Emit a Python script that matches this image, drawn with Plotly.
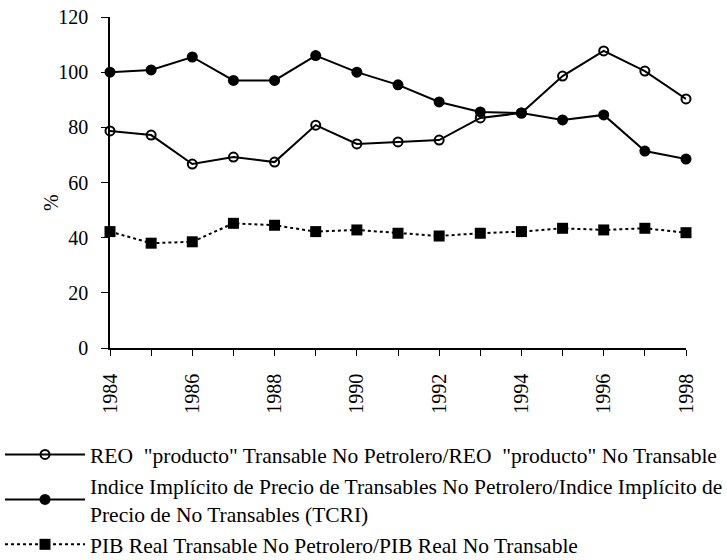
import plotly.graph_objects as go

years = list(range(1984, 1999))
reo = [78.7, 77.2, 66.7, 69.2, 67.4, 80.8, 74.0, 74.7, 75.4, 83.4, 85.2, 98.6, 107.7, 100.4, 90.3]
tcri = [100.0, 100.8, 105.5, 97.0, 97.0, 106.0, 100.0, 95.4, 89.2, 85.6, 85.2, 82.7, 84.5, 71.4, 68.5]
pib = [42.2, 38.0, 38.5, 45.2, 44.5, 42.2, 42.8, 41.6, 40.6, 41.6, 42.2, 43.4, 42.8, 43.4, 41.8]

name_reo = 'REO  "producto" Transable No Petrolero/REO  "producto" No Transable'
name_tcri = 'Indice Implícito de Precio de Transables No Petrolero/Indice Implícito de<br>Precio de No Transables (TCRI)'
name_pib = 'PIB Real Transable No Petrolero/PIB Real No Transable'

y_ticks = [0, 20, 40, 60, 80, 100, 120]
x_ticktext = [str(y) if y % 2 == 0 else "" for y in years]
y_title = "%"

FONT = "Liberation Serif, Times New Roman, serif"

fig = go.Figure()
fig.add_trace(go.Scatter(
    x=years, y=reo, name=name_reo, mode="lines+markers", legendgroup="a",
    line=dict(color="black", width=2),
    marker=dict(symbol="circle-open", size=9, color="black", line=dict(width=2)),
    cliponaxis=False,
))
fig.add_trace(go.Scatter(
    x=years, y=tcri, name=name_tcri, mode="lines+markers", legendgroup="b",
    line=dict(color="black", width=2),
    marker=dict(symbol="circle", size=11, color="black"),
    cliponaxis=False,
))
fig.add_trace(go.Scatter(
    x=years, y=pib, name=name_pib, mode="lines+markers", legendgroup="c",
    line=dict(color="black", width=2, dash="dot"),
    marker=dict(symbol="square", size=11, color="black"),
    cliponaxis=False,
))

fig.add_annotation(
    text=y_title, xref="paper", yref="paper",
    x=(38 - 110) / 576, y=(348 - 203) / 331,
    showarrow=False, textangle=-90,
    font=dict(family=FONT, size=20, color="black"),
)

fig.update_layout(
    width=727, height=560,
    margin=dict(l=110, r=41, t=17, b=212, autoexpand=False),
    paper_bgcolor="white", plot_bgcolor="white",
    font=dict(family=FONT, size=20, color="black"),
    showlegend=True,
    legend=dict(
        xref="container", yref="container",
        x=0.0, y=(560 - 434) / 560, xanchor="left", yanchor="top",
        font=dict(family=FONT, size=21.5, color="black"),
        itemwidth=80, tracegroupgap=0,
        bgcolor="rgba(0,0,0,0)",
    ),
    xaxis=dict(
        range=[1984, 1998], tickvals=years, ticktext=x_ticktext,
        tickangle=-90, ticks="outside", ticklen=6, tickwidth=1, tickcolor="black",
        ticklabelstandoff=10,
        showline=True, linecolor="black", linewidth=1.5,
        showgrid=False, zeroline=False,
        tickfont=dict(family=FONT, size=20),
    ),
    yaxis=dict(
        range=[0, 120], tickvals=y_ticks,
        ticks="outside", ticklen=7, tickwidth=1, tickcolor="black",
        ticklabelstandoff=9,
        showline=True, linecolor="black", linewidth=1.5,
        showgrid=False, zeroline=False,
        tickfont=dict(family=FONT, size=20),
    ),
)

fig.write_html("out.html", post_script="document.body.style.margin='0';",
               config={"displayModeBar": False})
